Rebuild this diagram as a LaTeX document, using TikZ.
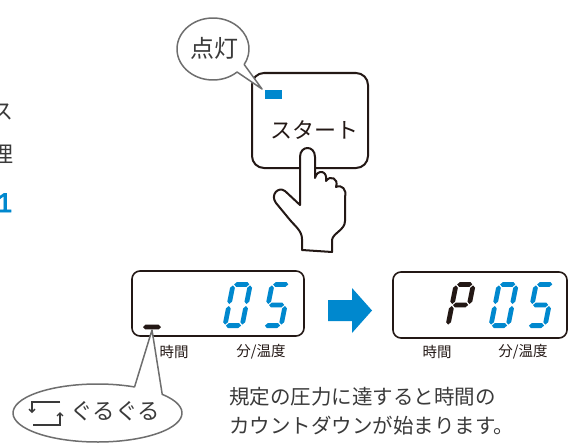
\documentclass[tikz,border=0pt]{standalone}
\usepackage{fontspec}
\setmainfont{Noto Sans CJK JP}
\newfontfamily\numfont{Liberation Sans}[FakeBold=3]
\usetikzlibrary{arrows.meta}
\definecolor{ledblue}{HTML}{0088CE}
\definecolor{ink}{HTML}{231815}
\definecolor{callgray}{HTML}{6E6E6E}
\definecolor{textgray}{HTML}{3A3A3A}

% tapered LCD segments: horizontal (x1,x2,y) and vertical (x,ytop,ybottom)
\newcommand\hseg[3]{\fill (#1,#3) -- (#1+2.4,#3-2.4) -- (#2-2.4,#3-2.4) -- (#2,#3) -- (#2-2.4,#3+2.4) -- (#1+2.4,#3+2.4) -- cycle;}
\newcommand\vseg[3]{\fill (#1,#2) -- (#1+2.4,#2+2.4) -- (#1+2.4,#3-2.4) -- (#1,#3) -- (#1-2.4,#3-2.4) -- (#1-2.4,#2+2.4) -- cycle;}
% digit cell: 22 wide, 46 high, origin at bottom left, y grows downwards
\newcommand\segA{\hseg{3.4}{18.6}{-43.6}}
\newcommand\segB{\vseg{19.6}{-42.6}{-24}}
\newcommand\segC{\vseg{19.6}{-22}{-3.4}}
\newcommand\segD{\hseg{3.4}{18.6}{-2.4}}
\newcommand\segE{\vseg{2.4}{-22}{-3.4}}
\newcommand\segF{\vseg{2.4}{-42.6}{-24}}
\newcommand\segG{\hseg{3.4}{18.6}{-23}}
\newcommand\DigZero{\segA\segB\segC\segD\segE\segF}
\newcommand\DigFive{\segA\segF\segG\segC\segD}
\newcommand\DigP{\segA\segB\segF\segG\segE}

\begin{document}
\begin{tikzpicture}[x=1pt,y=-1pt,
  lcd/.style={draw=ink,line width=1.6pt,rounded corners=8pt},
  bubble/.style={draw=callgray,line width=1.5pt,fill=white,line join=round},
  lbl/.style={inner sep=0pt,text=ink,font=\fontsize{14.5}{16}\selectfont},
  digit/.style={xslant=0.2},
]
\useasboundingbox (0,0) rectangle (570,444);

% text running in from the left edge
\node[inner sep=0pt,anchor=east,text=textgray,font=\fontsize{22}{26}\selectfont] (edgeA) at (14,112) {ス};
\node[inner sep=0pt,anchor=east,text=textgray,font=\fontsize{22}{26}\selectfont] (edgeB) at (14,154) {理};
\node[inner sep=0pt,anchor=base west,text=ledblue,font=\fontsize{27}{30}\numfont] (edgeC) at (-3,212) {1};

% start button with its indicator lamp
\draw[draw=ink,line width=2pt,rounded corners=12pt] (252,73) rectangle (368,168);
\fill[ledblue] (265,90) rectangle (282,99);
\node[inner sep=0pt,text=ink,font=\fontsize{22}{26}\selectfont] (start) at (314,130) {スタート};

% speech bubble "lamp on"
\coordinate (lamptip) at (262,89);
\draw[bubble] (213,49) ++(48:36 and 31) arc[start angle=48,end angle=390,x radius=36,y radius=31] -- (lamptip) -- cycle;
\node[inner sep=0pt,text=textgray,font=\fontsize{24}{28}\selectfont] (lamp) at (214,48) {点灯};

% pointing hand
\draw[draw=ink,fill=white,line width=2pt,line join=round]
  (300,205) -- (300,157) .. controls (300,145) and (315,145) .. (315,157)
  -- (315,178) .. controls (317,169) and (328,170) .. (326,181)
  .. controls (330,175) and (339,178) .. (336,187)
  .. controls (342,184) and (347,190) .. (345,197)
  -- (345,221) .. controls (345,230) and (333,233) .. (332,240)
  -- (332,252) -- (302,250) -- (302,239)
  .. controls (302,231) and (295,226) .. (290,220)
  -- (276,203) .. controls (270,195) and (278,186) .. (285,191) -- cycle;

% first display
\draw[lcd] (132,271) rectangle (304,336);
\begin{scope}[shift={(222,328)},digit,fill=ledblue] \DigZero \end{scope}
\begin{scope}[shift={(261,328)},digit,fill=ledblue] \DigFive \end{scope}
\begin{scope}[fill=ink] \hseg{143}{161}{327} \end{scope}
\coordinate (dash) at (152,330);
\node[lbl] (timeA) at (174,352) {時間};
\node[lbl] (tempA) at (261,352) {分/温度};

% arrow between the displays
\fill[ledblue] (328,300) -- (352,300) -- (352,288) -- (372,310.5) -- (352,333) -- (352,321) -- (328,321) -- cycle;

% second display
\draw[lcd] (393,272) rectangle (567,338);
\begin{scope}[shift={(445,328)},digit,fill=ink] \DigP \end{scope}
\begin{scope}[shift={(488,328)},digit,fill=ledblue] \DigZero \end{scope}
\begin{scope}[shift={(525,328)},digit,fill=ledblue] \DigFive \end{scope}
\node[lbl] (timeB) at (437,352) {時間};
\node[lbl] (tempB) at (523,352) {分/温度};

% speech bubble "spinning"
\draw[bubble] (97.5,413) ++(-40:84.5 and 29) arc[start angle=-40,end angle=296,x radius=84.5,y radius=29] -- (dash) -- cycle;
\draw[draw=textgray,line width=1.3pt,-{Straight Barb[length=3pt,width=6pt]}] (60,402) -- (32,402) -- (32,413);
\draw[draw=textgray,line width=1.3pt,-{Straight Barb[length=3pt,width=6pt]}] (33,425) -- (60,425) -- (60,412);
\node[inner sep=0pt,text=textgray,font=\fontsize{22.5}{26}\selectfont] (spin) at (115,411) {ぐるぐる};

% explanation
\node[inner sep=0pt,anchor=west,text=textgray,font=\fontsize{20.5}{24}\selectfont] (noteA) at (229,397) {規定の圧力に達すると時間の};
\node[inner sep=0pt,anchor=west,text=textgray,font=\fontsize{20.5}{24}\selectfont] (noteB) at (229,426) {カウントダウンが始まります。};
\end{tikzpicture}
\end{document}
